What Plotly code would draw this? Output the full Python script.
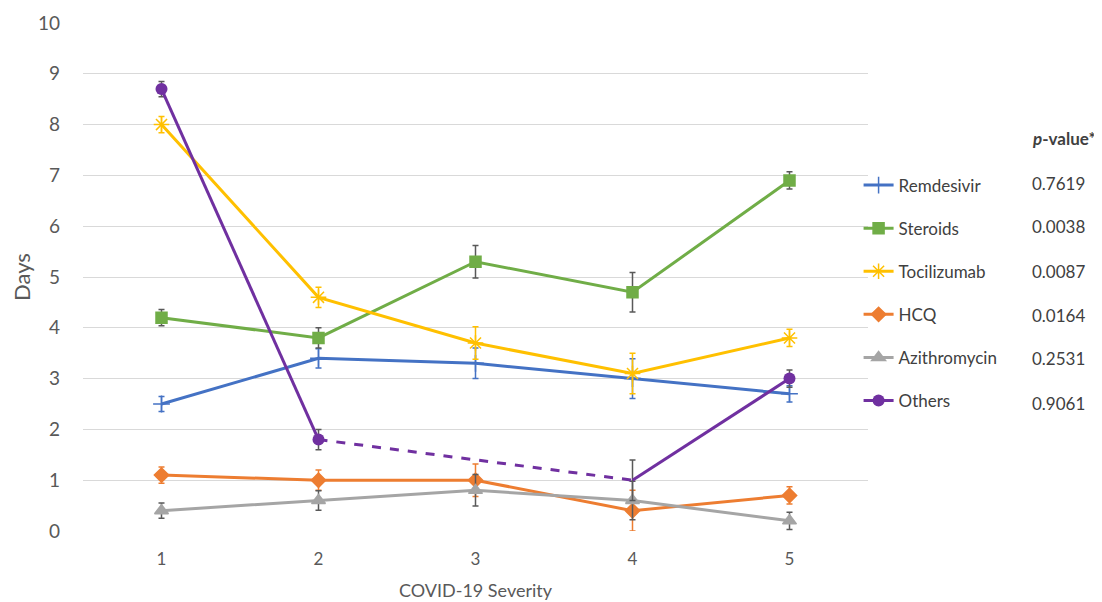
import plotly.graph_objects as go

severity = [1, 2, 3, 4, 5]
tick_labels = ["1", "2", "3", "4", "5"]

remdesivir = [2.5, 3.4, 3.3, 3.0, 2.7]
steroids = [4.2, 3.8, 5.3, 4.7, 6.9]
tocilizumab = [8.0, 4.6, 3.7, 3.1, 3.8]
hcq = [1.1, 1.0, 1.0, 0.4, 0.7]
azithromycin = [0.4, 0.6, 0.8, 0.6, 0.2]
others = [8.7, 1.8, None, 1.0, 3.0]

err_remdesivir = [0.15, 0.19, 0.3, 0.39, 0.16]
err_steroids = [0.16, 0.2, 0.32, 0.39, 0.17]
err_tocilizumab = [0.16, 0.2, 0.32, 0.4, 0.17]
err_hcq = [0.16, 0.2, 0.32, 0.4, 0.17]
err_azithromycin = [0.15, 0.19, 0.31, 0.38, 0.17]
err_others = [0.15, 0.2, 0.0, 0.4, 0.17]

p_values = ["0.7619", "0.0038", "0.0087", "0.0164", "0.2531", "0.9061"]

series = [
    ("Remdesivir", remdesivir, err_remdesivir, "#4472C4", "#4472C4", "cross-thin-open", 12),
    ("Steroids", steroids, err_steroids, "#70AD47", "#595959", "square", 11),
    ("Tocilizumab", tocilizumab, err_tocilizumab, "#FFC000", "#FFC000", "asterisk-open", 13),
    ("HCQ", hcq, err_hcq, "#ED7D31", "#ED7D31", "diamond", 11),
    ("Azithromycin", azithromycin, err_azithromycin, "#A5A5A5", "#595959", "triangle-up", 12),
]

FONT = "Lato, Open Sans, sans-serif"
fig = go.Figure()

for name, vals, errs, col, ecol, sym, sz in series:
    fig.add_trace(go.Scatter(
        x=severity, y=vals, name=name, mode="lines+markers", legendgroup=name,
        line=dict(color=col, width=3),
        marker=dict(symbol=sym, size=sz, color=col, line=dict(color=col, width=1.5)),
        error_y=dict(type="data", array=errs, visible=True, color=ecol, thickness=1.5, width=3),
    ))

# Others: solid segments with gap at severity 3, marker hidden at 4
others_colors = ["#7030A0", "#7030A0", "#7030A0", "rgba(112,48,160,0)", "#7030A0"]
fig.add_trace(go.Scatter(
    x=severity, y=others, name="Others", mode="lines+markers", legendgroup="Others",
    connectgaps=False,
    line=dict(color="#7030A0", width=3),
    marker=dict(symbol="circle", size=12, color=others_colors),
    error_y=dict(type="data", array=err_others, visible=True, color="#595959", thickness=1.5, width=3),
))
# dashed bridge across the missing value
bridge_x = [severity[i] for i in (1, 3)]
bridge_y = [others[i] for i in (1, 3)]
fig.add_trace(go.Scatter(
    x=bridge_x, y=bridge_y, mode="lines", legendgroup="Others", showlegend=False,
    line=dict(color="#7030A0", width=3, dash="dash"), hoverinfo="skip",
))

# p-value column
fig.add_annotation(xref="paper", yref="paper", x=(1030 - 83) / 785, y=(531 - 138) / 508,
                   text="<b><i>p</i>-value*</b>", showarrow=False, xanchor="left", yanchor="middle",
                   font=dict(family=FONT, size=17, color="#404040"))
for i, pv in enumerate(p_values):
    fig.add_annotation(xref="paper", yref="paper", x=(1030 - 83) / 785, y=(531 - 183 - 44 * i) / 508,
                       text=pv, showarrow=False, xanchor="left", yanchor="middle",
                       font=dict(family=FONT, size=17, color="#404040"))

fig.update_layout(
    width=1102, height=602,
    margin=dict(l=75, r=242, t=15, b=79),
    plot_bgcolor="white", paper_bgcolor="white",
    font=dict(family=FONT, color="#595959"),
    showlegend=True,
    legend=dict(x=0.988, xanchor="left", y=(531 - 167.5) / 508, yanchor="top",
                font=dict(family=FONT, size=17, color="#404040"),
                tracegroupgap=18, itemwidth=30, bgcolor="rgba(0,0,0,0)"),
    xaxis=dict(range=[0.5, 5.5], tickmode="array", tickvals=severity, ticktext=tick_labels,
               showgrid=False, zeroline=False, showline=False, ticks="", automargin=False,
               tickfont=dict(size=17, color="#595959"), ticklabelstandoff=16,
               title=dict(text="COVID-19 Severity", font=dict(size=18, color="#595959"), standoff=16)),
    yaxis=dict(range=[0, 10], dtick=1, showgrid=True, gridcolor="#D9D9D9", gridwidth=1,
               zeroline=False, showline=False, ticks="", automargin=False,
               tickfont=dict(size=19, color="#595959"), ticklabelstandoff=22,
               title=dict(text="Days", font=dict(size=22, color="#595959"), standoff=2)),
)

fig.write_html("out.html")
